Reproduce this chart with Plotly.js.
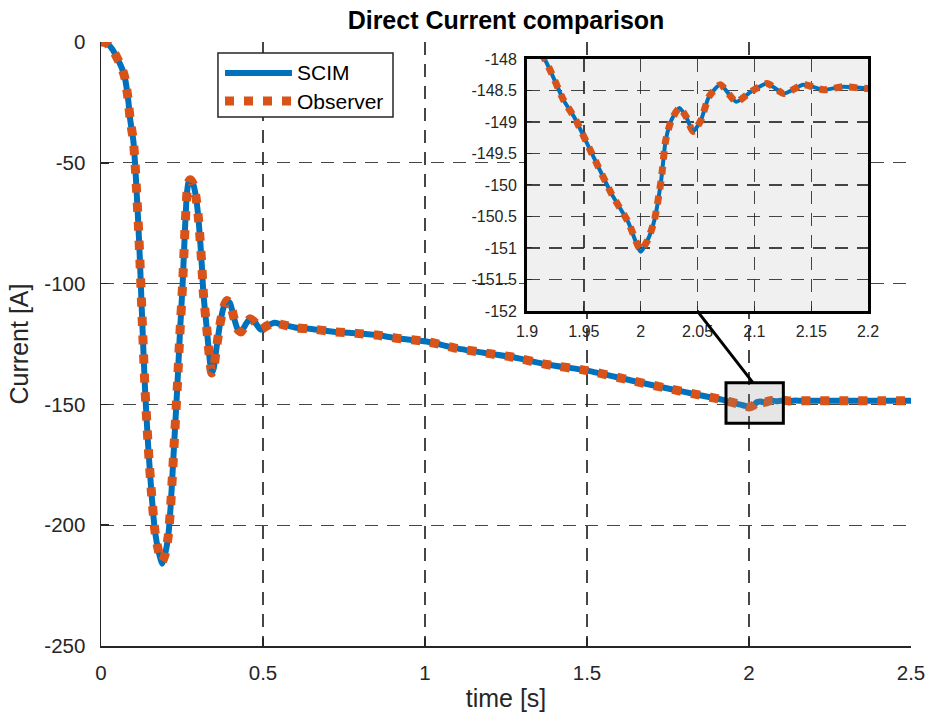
<!DOCTYPE html>
<html>
<head>
<meta charset="utf-8">
<script src="https://cdn.plot.ly/plotly-3.0.1.min.js"></script>
<style>html,body{margin:0;padding:0;background:#fff;}#chart{width:930px;height:722px;}</style>
</head>
<body>
<div id="chart"></div>
<script>
// ---- data ----
var time = [0, 0.0175, 0.035, 0.053, 0.065, 0.074, 0.084, 0.09, 0.1, 0.105, 0.11, 0.115, 0.12, 0.128, 0.136, 0.146, 0.156, 0.167, 0.178, 0.189, 0.198, 0.208, 0.215, 0.221, 0.228, 0.235, 0.243, 0.252, 0.259, 0.265, 0.27, 0.276, 0.285, 0.293, 0.3, 0.306, 0.311, 0.316, 0.326, 0.336, 0.342, 0.348, 0.356, 0.367, 0.378, 0.388, 0.398, 0.41, 0.422, 0.432, 0.446, 0.46, 0.475, 0.493, 0.512, 0.535, 0.56, 0.604, 0.65, 0.717, 0.789, 0.85, 0.913, 1.005, 1.098, 1.2, 1.273, 1.376, 1.5, 1.633, 1.746, 1.849, 1.916, 1.932, 1.942, 1.957, 1.974, 1.989, 2.0, 2.006, 2.012, 2.018, 2.022, 2.027, 2.034, 2.04, 2.046, 2.053, 2.06, 2.07, 2.084, 2.097, 2.111, 2.126, 2.143, 2.161, 2.178, 2.199, 2.3, 2.4, 2.5];

var scim = [0, -0.5, -3, -7.5, -11, -15, -24, -32, -41, -50, -62, -75, -90, -118, -144, -168, -187, -203, -211, -216, -212, -204, -192, -178, -161, -144, -122, -100, -78, -63, -58, -57, -59, -64, -72, -82, -92, -104, -118, -132, -137, -135, -127, -117, -110, -107, -108, -114, -119, -120, -117, -114.5, -116, -119, -117.5, -116.2, -117, -118.3, -118.8, -119.9, -120.6, -121.3, -122.6, -124, -126.8, -129, -130.5, -133.5, -136, -140, -143.3, -146.2, -148.02, -148.65, -148.94, -149.5, -150.13, -150.59, -151.06, -150.88, -150.56, -149.92, -149.29, -148.97, -148.78, -148.92, -149.15, -148.97, -148.6, -148.41, -148.68, -148.52, -148.39, -148.55, -148.41, -148.49, -148.44, -148.47, -148.5, -148.5, -148.5];

var observer = [0, -0.5, -3, -7.5, -11, -15, -24, -32, -41, -50, -62, -75, -90, -118, -144, -168, -187, -203, -211, -215, -212, -204, -192, -178, -161, -144, -122, -100, -78, -63, -58, -57, -59, -64, -72, -82, -92, -104, -118, -132, -137, -135, -127, -117, -110, -107, -108, -114, -119, -120, -117, -114.5, -116, -119, -117.5, -116.2, -117, -118.3, -118.8, -119.9, -120.6, -121.3, -122.6, -124, -126.8, -129, -130.5, -133.5, -136, -140, -143.3, -146.2, -148.02, -148.65, -148.94, -149.5, -150.13, -150.59, -151.03, -150.88, -150.56, -149.92, -149.29, -148.97, -148.78, -148.92, -149.15, -148.97, -148.6, -148.41, -148.68, -148.52, -148.39, -148.55, -148.41, -148.49, -148.44, -148.47, -148.5, -148.5, -148.5];

var seriesNames = ["SCIM", "Observer"];
var mainXTicks = [0, 0.5, 1, 1.5, 2, 2.5];
var mainXTickText = ["0", "0.5", "1", "1.5", "2", "2.5"];
var mainYTicks = [0, -50, -100, -150, -200, -250];
var mainYTickText = ["0", "-50", "-100", "-150", "-200", "-250"];
var insetXTicks = [1.9, 1.95, 2, 2.05, 2.1, 2.15, 2.2];
var insetXTickText = ["1.9", "1.95", "2", "2.05", "2.1", "2.15", "2.2"];
var insetYTicks = [-152, -151.5, -151, -150.5, -150, -149.5, -149, -148.5, -148];
var insetYTickText = ["-152", "-151.5", "-151", "-150.5", "-150", "-149.5", "-149", "-148.5", "-148"];

// ---- styling ----
var BLUE = "#0072BD", ORANGE = "#D95319";
var FONT = "Liberation Sans, Arial, Helvetica, sans-serif";
var AX = "#262626";
var GRID = "rgba(38,38,38,0.85)";

var traces = [
  {x: time, y: scim, xaxis: "x", yaxis: "y", mode: "lines", name: seriesNames[0],
   line: {color: BLUE, width: 6, shape: "spline", smoothing: 0.6}, showlegend: false, hoverinfo: "skip"},
  {x: time, y: observer, xaxis: "x", yaxis: "y", mode: "lines", name: seriesNames[1],
   line: {color: ORANGE, width: 9, dash: "9px,10px", shape: "spline", smoothing: 0.6}, showlegend: false, hoverinfo: "skip"},
  {x: time, y: scim, xaxis: "x2", yaxis: "y2", mode: "lines", name: seriesNames[0],
   line: {color: BLUE, width: 4, shape: "spline", smoothing: 0.6}, showlegend: false, hoverinfo: "skip"},
  {x: time, y: observer, xaxis: "x2", yaxis: "y2", mode: "lines", name: seriesNames[1],
   line: {color: ORANGE, width: 7, dash: "8px,7px", shape: "spline", smoothing: 0.6}, showlegend: false, hoverinfo: "skip"}
];

// legend geometry in paper coordinates
var legX0 = 0.1444, legX1 = 0.3605, legY0 = 0.8758, legY1 = 0.9818;
var row1 = 0.9487, row2 = 0.9023, lineX0 = 0.1531, lineX1 = 0.2358, textX = 0.2400;

var layout = {
  width: 930, height: 722,
  margin: {l: 101, r: 19, t: 42, b: 76},
  paper_bgcolor: "#ffffff",
  plot_bgcolor: "#ffffff",
  font: {family: FONT, color: AX, size: 20},
  showlegend: false,
  title: {text: "<b>Direct Current comparison</b>", font: {family: FONT, size: 25, color: "#000"},
          x: 0.5, xref: "paper", xanchor: "center", y: 0.972, yref: "container", yanchor: "middle"},
  xaxis: {
    domain: [0, 1], range: [0, 2.5], anchor: "y",
    tickvals: mainXTicks, ticktext: mainXTickText,
    ticks: "inside", ticklen: 8, tickwidth: 1.5, tickcolor: AX,
    showline: true, linecolor: AX, linewidth: 1.5, mirror: false,
    showgrid: true, gridcolor: GRID, gridwidth: 1.3, griddash: "13px,9px",
    zeroline: false, ticklabelstandoff: 8,
    tickfont: {size: 20.5, color: AX, family: FONT},
    title: {text: "time [s]", font: {size: 25, color: AX, family: FONT}, standoff: 6}
  },
  yaxis: {
    domain: [0, 1], range: [-250, 0], anchor: "x",
    tickvals: mainYTicks, ticktext: mainYTickText,
    ticks: "inside", ticklen: 8, tickwidth: 1.5, tickcolor: AX,
    showline: true, linecolor: AX, linewidth: 1.5, mirror: false,
    showgrid: true, gridcolor: GRID, gridwidth: 1.3, griddash: "13px,9px",
    zeroline: false, ticklabelstandoff: 10,
    tickfont: {size: 20.5, color: AX, family: FONT},
    title: {text: "Current [A]", font: {size: 25, color: AX, family: FONT}, standoff: 8}
  },
  xaxis2: {
    domain: [0.526, 0.947], range: [1.9, 2.2], anchor: "y2",
    tickvals: insetXTicks, ticktext: insetXTickText,
    ticks: "inside", ticklen: 5, tickwidth: 1, tickcolor: AX,
    showline: true, linecolor: "#000", linewidth: 3, mirror: true,
    showgrid: true, gridcolor: GRID, gridwidth: 1.3, griddash: "13px,9px",
    zeroline: false, ticklabelstandoff: 4,
    tickfont: {size: 16, color: AX, family: FONT}
  },
  yaxis2: {
    domain: [0.5546, 0.972], range: [-152, -148], anchor: "x2",
    tickvals: insetYTicks, ticktext: insetYTickText,
    ticks: "inside", ticklen: 5, tickwidth: 1, tickcolor: AX,
    showline: true, linecolor: "#000", linewidth: 3, mirror: true,
    showgrid: true, gridcolor: GRID, gridwidth: 1.3, griddash: "13px,9px",
    zeroline: false, ticklabelstandoff: 4,
    tickfont: {size: 16, color: AX, family: FONT}
  },
  shapes: [
    {type: "rect", xref: "x2", yref: "y2", x0: 1.9, x1: 2.2, y0: -152, y1: -148,
     layer: "below", fillcolor: "#f0f0f0", line: {width: 0}},
    {type: "rect", xref: "x", yref: "y", x0: 1.929, x1: 2.106, y0: -157.8, y1: -141.0,
     layer: "above", fillcolor: "rgba(140,140,140,0.22)", line: {color: "#000", width: 3}},
    {type: "line", xref: "x", yref: "y", x0: 1.840, y0: -111.3, x1: 2.012, y1: -141.0,
     layer: "above", line: {color: "#000", width: 3}},
    {type: "rect", xref: "paper", yref: "paper", x0: legX0, x1: legX1, y0: legY0, y1: legY1,
     layer: "above", fillcolor: "#ffffff", line: {color: AX, width: 1.5}},
    {type: "line", xref: "paper", yref: "paper", x0: lineX0, x1: lineX1, y0: row1, y1: row1,
     layer: "above", line: {color: BLUE, width: 6}},
    {type: "line", xref: "paper", yref: "paper", x0: lineX0, x1: lineX1, y0: row2, y1: row2,
     layer: "above", line: {color: ORANGE, width: 9, dash: "9px,10px"}}
  ],
  annotations: [
    {xref: "paper", yref: "paper", x: textX, y: row1, xanchor: "left", yanchor: "middle",
     text: seriesNames[0], showarrow: false, font: {size: 21, color: "#000", family: FONT}},
    {xref: "paper", yref: "paper", x: textX, y: row2, xanchor: "left", yanchor: "middle",
     text: seriesNames[1], showarrow: false, font: {size: 21, color: "#000", family: FONT}}
  ]
};

Plotly.newPlot("chart", traces, layout, {staticPlot: true, displayModeBar: false});
</script>
</body>
</html>
